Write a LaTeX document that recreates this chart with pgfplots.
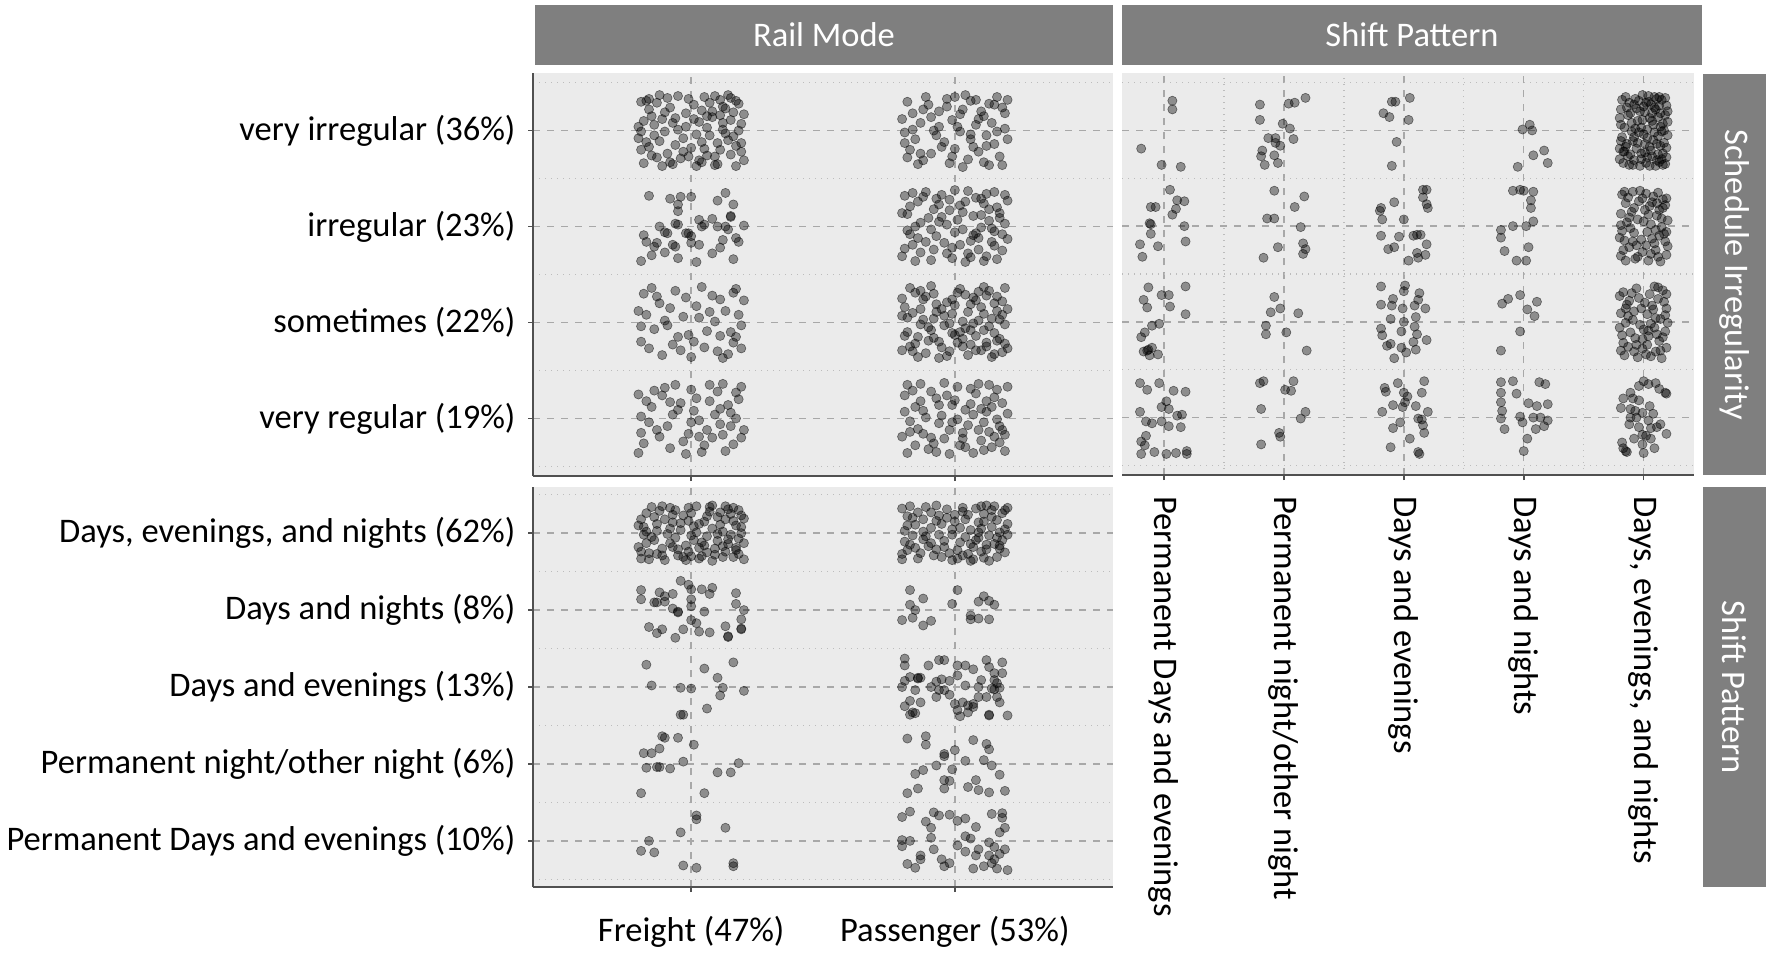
\documentclass[border=0pt]{standalone}
\usepackage{pgfplots}
\pgfplotsset{compat=1.18}
\usepackage{fontspec}
\setmainfont{Carlito}
\definecolor{panelbg}{RGB}{235,235,235}
\definecolor{stripgray}{RGB}{127,127,127}
\definecolor{majgrid}{RGB}{168,168,168}
\definecolor{mingrid}{RGB}{188,188,188}
\definecolor{axisgray}{RGB}{80,80,80}
\newcommand{\fs}{\fontsize{17.25pt}{20pt}\selectfont}
\pgfplotsset{
  table/cell/.style 2 args={header=false,row sep=\\,x expr=#1+\thisrowno{0}/100,y expr=#2+\thisrowno{1}/100},
  pts/.style={only marks,mark=*,mark size=2.3pt,mark options={draw=black,draw opacity=0.5,fill=black,fill opacity=0.4,line width=0.3pt}},
  panel/.style={scale only axis,anchor=north west,axis background/.style={fill=panelbg},
    grid=both,major grid style={majgrid,line width=0.7pt,dash pattern=on 3.5pt off 3.5pt},
    minor grid style={mingrid,line width=0.7pt,dash pattern=on 0.7pt off 2.3pt},
    tick align=outside,major tick length=2.5pt,minor tick length=0pt,
    tick style={axisgray,line width=0.8pt},
    axis line style={-,axisgray,line width=1pt},
    tick label style={font=\fs,text=black},
    yticklabel shift=2.8pt,
    enlargelimits=false}
}
\begin{document}
\begin{tikzpicture}
\useasboundingbox (0,0) rectangle (885pt,-477pt);
% strips
\fill[stripgray] (267.5pt,-2.5pt) rectangle (556.5pt,-32.5pt);
\node[white,font=\fs] at (412pt,-17.5pt) {Rail Mode};
\fill[stripgray] (561pt,-2.5pt) rectangle (851pt,-32.5pt);
\node[white,font=\fs] at (706pt,-17.5pt) {Shift Pattern};
\fill[stripgray] (851.5pt,-37pt) rectangle (883pt,-237.5pt);
\node[white,font=\fs,rotate=-90] at (867.25pt,-137.25pt) {Schedule Irregularity};
\fill[stripgray] (851.5pt,-243.5pt) rectangle (883pt,-443.5pt);
\node[white,font=\fs,rotate=-90] at (867.25pt,-343.5pt) {Shift Pattern};

% ---------------- top-left: Rail Mode x Schedule Irregularity
\begin{axis}[panel,at={(266.5pt,-36.5pt)},width=290pt,height=201.5pt,
  xmin=0.4,xmax=2.6,ymin=0.4,ymax=4.6,
  axis x line*=bottom,axis y line*=left,
  xtick={1,2},xticklabels={,},
  ytick={1,2,3,4},yticklabels={very regular (19\%),sometimes (22\%),irregular (23\%),very irregular (36\%)},
  minor ytick={0.5,1.5,2.5,3.5,4.5}]
% Freight, very irregular
\addplot[pts] table[cell={1}{4}] {-17 31\\ 4 -12\\ 12 25\\ -8 -33\\ 19 7\\ -2 18\\ -14 -5\\ 9 -27\\ 15 34\\ -19 -20\\ 6 3\\ -11 12\\ 17 -16\\ -5 36\\ 2 -37\\ 13 -3\\ -16 22\\ 8 14\\ -9 -24\\ 20 -31\\ -3 -8\\ 11 32\\ -20 4\\ 5 -19\\ -12 37\\ 16 19\\ -7 8\\ 1 27\\ 14 -10\\ -18 -34\\ 10 -35\\ -15 15\\ 3 9\\ 18 28\\ -6 -15\\ 7 -5\\ -13 -28\\ 19 -22\\ -1 33\\ 12 1\\ -10 -1\\ 4 21\\ -17 -12\\ 15 11\\ -4 -29\\ 9 36\\ -19 30\\ 6 -26\\ 17 -37\\ -8 24\\ 0 -18\\ -14 6\\ 11 -20\\ -2 4\\ 20 17\\ -11 -37\\ 7 29\\ -16 -17\\ 13 23\\ 3 -31\\ -6 13\\ 16 -6\\ -20 -8\\ 1 12\\ 10 -13\\ -9 34\\ 18 0\\ -3 -22\\ 8 20\\ -15 -26\\ 14 37\\ -12 -11\\ 5 35\\ -18 10\\ 19 -13\\ -7 -35\\ 2 -4\\ 12 8\\ -13 29\\ 9 -36\\ -5 1\\ 17 31\\ -1 -27\\ 6 15\\ -19 -1\\ 15 -25\\ -10 19\\ 4 -33\\ 11 16\\ -16 33\\};
% Freight, irregular
\addplot[pts] table[cell={1}{3}] {-16 32\\ -8 29\\ -4 31\\ 0 31\\ 13 35\\ 10 27\\ 16 23\\ -5 23\\ -5 16\\ -6 3\\ -5 2\\ -9 -7\\ -10 -6\\ -12 0\\ -18 -9\\ -17 -16\\ -13 -17\\ -14 -21\\ -2 -7\\ -1 -7\\ 0 -10\\ 3 7\\ 4 0\\ 5 2\\ 8 8\\ 10 0\\ 13 0\\ 15 10\\ 15 11\\ 20 1\\ 14 -3\\ 12 -14\\ 17 -12\\ 18 -16\\ 0 -17\\ 3 -19\\ -7 -19\\ -6 -21\\ -15 -30\\ -5 -33\\ 8 -28\\ 16 -34\\ -19 -36\\ 2 -37\\ 11 -22\\ -10 -27\\};
% Freight, sometimes
\addplot[pts] table[cell={1}{2}] {-18 30\\ -6 33\\ 8 28\\ 17 35\\ -12 20\\ 2 17\\ 13 12\\ -17 8\\ -3 6\\ 9 1\\ 19 -3\\ -14 -7\\ -1 -13\\ 11 -14\\ -19 -20\\ -7 -23\\ 5 -26\\ 16 -21\\ -11 -34\\ 0 -36\\ 14 -33\\ 20 23\\ -9 -3\\ 4 37\\ -15 36\\ 11 24\\ -4 -29\\ 18 8\\ -20 12\\ 6 -9\\ -2 26\\ 15 -10\\ -13 27\\ 1 -20\\ 19 -27\\ -8 15\\ 7 11\\ -16 -27\\ 12 -37\\ -5 -15\\ 3 5\\ -19 -4\\ 10 -30\\ 17 -15\\ -10 2\\ 16 31\\};
% Freight, very regular
\addplot[pts] table[cell={1}{1}] {-20 25\\ -10 32\\ 0 30\\ 12 36\\ 18 20\\ -15 12\\ -4 16\\ 7 18\\ 15 6\\ -19 2\\ -7 4\\ 3 -2\\ 11 -6\\ 20 -12\\ -13 -12\\ -1 -16\\ 8 -20\\ 16 -27\\ -18 -26\\ -8 -31\\ 4 -35\\ 13 -34\\ -11 24\\ 1 8\\ -16 -4\\ 10 28\\ 19 -20\\ -3 -24\\ 6 -12\\ -20 -36\\ 14 14\\ -6 35\\ 9 4\\ -14 29\\ 2 21\\ 17 0\\ -9 -8\\ 5 -28\\ -17 18\\ 12 -17\\ -2 -37\\ 19 33\\ -12 -19\\ 7 35\\ -5 9\\ 15 -8\\ -19 -15\\ 0 -4\\ 11 10\\ -8 17\\ 3 -19\\ 17 27\\};
% Passenger, very irregular
\addplot[pts] table[cell={2}{4}] {-18 30\\ -10 27\\ -3 33\\ 6 31\\ 13 28\\ 18 24\\ -16 18\\ -6 20\\ 3 22\\ 11 15\\ 16 35\\ -13 8\\ -1 11\\ 8 6\\ 19 2\\ -19 -2\\ -8 0\\ 2 -1\\ 12 -5\\ -15 -9\\ -4 -12\\ 6 -9\\ 15 -14\\ 20 -9\\ -17 -20\\ -9 -24\\ 0 -19\\ 9 -22\\ 17 -27\\ -12 -31\\ -2 -34\\ 5 -30\\ 13 -36\\ -20 12\\ -11 35\\ 4 37\\ 10 20\\ -6 4\\ 14 8\\ -14 -35\\ 7 -17\\ -1 -27\\ 19 18\\ -7 -5\\ 1 4\\ -18 -28\\ 11 -33\\ 16 -1\\ -3 25\\ 8 32\\ -12 22\\ 3 -38\\ -16 1\\ 12 -16\\ 18 -36\\ -9 14\\ 0 35\\ 9 12\\ -5 -17\\ 15 27\\ -19 -13\\ 6 -4\\ -13 -24\\ 20 32\\ 2 17\\};
% Passenger, irregular
\addplot[pts] table[cell={2}{3}] {-14 26\\ 7 -9\\ 19 33\\ -3 -28\\ 10 12\\ -18 -4\\ 2 22\\ 15 -20\\ -9 -35\\ 5 37\\ -20 14\\ 12 -31\\ -6 5\\ 17 9\\ -11 -16\\ 0 -6\\ 8 30\\ -16 35\\ 14 -2\\ -1 -22\\ 20 -13\\ -8 18\\ 4 -37\\ -13 -27\\ 11 24\\ -5 33\\ 16 -34\\ -19 -23\\ 6 -15\\ 1 7\\ -10 9\\ 13 18\\ -15 0\\ 9 -24\\ -2 28\\ 18 -25\\ -7 -10\\ 3 15\\ -17 21\\ 15 36\\ -4 -17\\ 10 -1\\ -12 31\\ 19 3\\ -1 -33\\ 7 11\\ -20 -31\\ 12 34\\ -9 -3\\ 5 -28\\ 16 20\\ -14 -12\\ 0 38\\ -6 23\\ 14 -16\\ -18 13\\ 8 -7\\ -3 2\\ 11 -36\\ -16 -19\\ 4 26\\ 18 -8\\ -11 36\\ 2 -19\\ -7 29\\ 13 6\\ -19 32\\ 6 -32\\ 17 14\\ -13 4\\ 9 -12\\ -2 17\\ 20 27\\ -8 -24\\ 3 -3\\ -15 -36\\ 15 -5\\ -5 10\\ 10 29\\ -17 -8\\};
% Passenger, sometimes
\addplot[pts] table[cell={2}{2}] {8 -29\\ -13 14\\ 18 22\\ -4 -3\\ 2 35\\ -19 -14\\ 11 -8\\ -8 30\\ 15 -33\\ -1 9\\ -16 -30\\ 6 19\\ 19 -2\\ -10 -19\\ 3 -25\\ 13 33\\ -20 25\\ 9 2\\ -6 -37\\ 16 12\\ -12 3\\ 0 -13\\ 12 -21\\ -17 36\\ 7 26\\ -3 21\\ 20 -27\\ -9 -8\\ 5 -34\\ 14 4\\ -15 -22\\ 1 31\\ -7 11\\ 17 -17\\ -2 -30\\ 10 16\\ -18 5\\ 4 -6\\ -11 27\\ 19 36\\ -5 -26\\ 12 28\\ -14 -36\\ 8 -14\\ -1 24\\ 15 -11\\ -19 16\\ 3 1\\ -8 -16\\ 18 8\\ -13 33\\ 6 -23\\ -4 7\\ 11 37\\ -20 -29\\ 0 18\\ 14 -36\\ -10 -5\\ 7 -1\\ -16 10\\ 16 27\\ -6 -20\\ 2 -10\\ 19 -22\\ -12 24\\ 9 32\\ -3 -35\\ 13 -4\\ -18 -10\\ 5 11\\ -9 38\\ 17 3\\ -14 -15\\ 1 -21\\ 10 -29\\ -7 19\\ 20 14\\ -2 -1\\ -17 -25\\ 8 23\\ -11 -32\\ 4 29\\ 15 20\\ -5 14\\ 12 -25\\ -20 7\\ 6 -8\\ -15 31\\ 18 -31\\ -1 -11\\ 11 9\\ -8 4\\ 3 -17\\ -13 -2\\ 16 -19\\};
% Passenger, very regular
\addplot[pts] table[cell={2}{1}] {3 -21\\ -12 8\\ 16 30\\ -7 -35\\ 11 -4\\ -19 24\\ 6 15\\ -2 -12\\ 19 -17\\ -15 -28\\ 9 36\\ -5 3\\ 14 -30\\ -17 -3\\ 1 33\\ 12 7\\ -9 -20\\ 20 5\\ -3 24\\ 7 -36\\ -13 18\\ 17 -8\\ -1 -4\\ 10 -23\\ -18 35\\ 4 9\\ -10 -32\\ 15 22\\ -6 14\\ 19 -34\\ -14 -11\\ 2 -28\\ 8 26\\ -20 -19\\ 13 -14\\ -4 37\\ 18 16\\ -11 1\\ 5 -7\\ -16 29\\ 0 19\\ 11 -33\\ -8 -26\\ 16 -1\\ -19 7\\ 6 31\\ -2 -37\\ 14 12\\ -12 -16\\ 9 -12\\ -6 -5\\ 20 33\\ -15 12\\ 3 -15\\ 12 18\\ -9 28\\ 17 -25\\ -4 -21\\ 7 4\\ -18 -36\\ 1 -1\\ 15 -19\\ -13 36\\ 10 10\\ -7 21\\ 18 -12\\ -17 -14\\ 4 -30\\ 13 35\\ -1 14\\};
\end{axis}

% ---------------- top-right: Shift Pattern x Schedule Irregularity
\begin{axis}[panel,at={(561pt,-36.5pt)},width=286pt,height=201pt,
  xmin=0.65,xmax=5.42,ymin=0.4,ymax=4.6,
  axis x line*=bottom,axis y line*=left,y axis line style={draw=none},
  ytick={1,2,3,4},yticklabels={,,,},ytick style={draw=none},
  minor ytick={0.5,1.5,2.5,3.5,4.5},
  xtick={1,2,3,4,5},minor xtick={1.5,2.5,3.5,4.5},
  xticklabels={Permanent Days and evenings,Permanent night/other night,Days and evenings,Days and nights,{Days, evenings, and nights}},
  xticklabel shift=4.5pt,
  xticklabel style={rotate=-90,anchor=west}]
% Permanent Days and evenings
\addplot[pts] table[cell={1}{4}] {7 31\\ 7 22\\ -19 -19\\ -2 -36\\ 14 -38\\};
\addplot[pts] table[cell={1}{3}] {5 38\\ -11 20\\ -7 20\\ 11 27\\ 17 26\\ 10 18\\ 7 12\\ -11 2\\ -12 3\\ -11 -8\\ 17 0\\ -20 -19\\ -5 -21\\ 18 -16\\ -18 -32\\};
\addplot[pts] table[cell={1}{2}] {-13 36\\ 18 37\\ -17 23\\ -14 15\\ -2 28\\ 4 28\\ 5 16\\ 18 8\\ -4 -2\\ -10 -4\\ -19 -16\\ -16 -11\\ -17 -31\\ -13 -29\\ -10 -27\\ -5 -34\\ -12 -35\\ -14 -30\\};
\addplot[pts] table[cell={1}{1}] {-20 36\\ -4 36\\ -14 29\\ 8 28\\ 18 27\\ 2 17\\ -2 11\\ 4 9\\ -20 6\\ 15 3\\ 11 2\\ -15 -4\\ -10 -6\\ -2 -4\\ 4 -9\\ 14 -10\\ -15 -19\\ -19 -25\\ -16 -29\\ -8 -36\\ -19 -38\\ 2 -38\\ 10 -37\\ 19 -35\\ 19 -38\\};
% Permanent night/other night
\addplot[pts] table[cell={2}{4}] {-20 27\\ 4 28\\ 9 29\\ 18 34\\ -20 11\\ -1 7\\ 5 2\\ 8 -9\\ -13 -8\\ -7 -8\\ -7 -13\\ -3 -16\\ -18 -21\\ -19 -27\\ -8 -26\\ -16 -36\\ -5 -34\\};
\addplot[pts] table[cell={2}{3}] {-8 37\\ 17 31\\ 9 20\\ -14 8\\ -8 8\\ 14 -1\\ 16 -18\\ 18 -24\\ 16 -29\\ -5 -22\\ -17 -33\\};
\addplot[pts] table[cell={2}{2}] {-8 26\\ -11 10\\ -3 14\\ 12 9\\ -15 -4\\ -15 -13\\ 2 -11\\ 19 -30\\};
\addplot[pts] table[cell={2}{1}] {-20 36\\ -17 38\\ 8 38\\ 1 29\\ 6 28\\ -19 9\\ 18 6\\ 14 -1\\ -4 -16\\ -3 -20\\ -19 -28\\};
% Days and evenings
\addplot[pts] table[cell={3}{4}] {-10 30\\ -7 30\\ 5 34\\ -17 18\\ -12 14\\ 4 11\\ -6 -12\\ -10 -37\\};
\addplot[pts] table[cell={3}{3}] {16 38\\ 19 38\\ 16 30\\ 19 23\\ 20 19\\ -8 25\\ -19 19\\ -20 16\\ -18 7\\ 0 7\\ -19 -10\\ -4 -11\\ 8 -10\\ 11 -9\\ 14 -9\\ 19 -19\\ -8 -22\\ -13 -24\\ 4 -36\\ 11 -28\\ 12 -33\\ 18 -30\\};
\addplot[pts] table[cell={3}{2}] {-19 37\\ 1 38\\ 0 32\\ 13 30\\ -9 24\\ 12 23\\ -19 18\\ -10 17\\ -1 14\\ 9 17\\ 18 14\\ -11 3\\ 10 5\\ 0 0\\ -19 -7\\ -18 -14\\ 9 -5\\ 11 -13\\ -2 -10\\ -14 -25\\ -11 -23\\ -2 -27\\ 10 -29\\ 19 -19\\ 8 -21\\ -8 -38\\ 2 -32\\};
\addplot[pts] table[cell={3}{1}] {17 38\\ -5 36\\ -16 31\\ -15 27\\ 0 26\\ 3 22\\ 1 16\\ 15 26\\ -9 13\\ -1 11\\ 10 12\\ -18 6\\ 20 6\\ 12 -1\\ 15 -2\\ -3 -5\\ 16 -8\\ -9 -11\\ 17 -16\\ 5 -22\\ -11 -31\\ 12 -36\\ 13 -38\\};
% Days and nights
\addplot[pts] table[cell={4}{4}] {5 6\\ 7 0\\ -1 1\\ 17 -21\\ 8 -26\\ 20 -34\\ -5 -38\\};
\addplot[pts] table[cell={4}{3}] {-9 37\\ -3 38\\ 0 37\\ 8 36\\ 6 27\\ 6 19\\ 8 5\\ -9 0\\ 2 0\\ -19 -4\\ -19 -12\\ 4 -22\\ -16 -26\\ -6 -36\\ 2 -36\\};
\addplot[pts] table[cell={4}{2}] {-18 19\\ -13 24\\ -3 28\\ 3 13\\ 11 21\\ 9 6\\ -3 -10\\ -19 -30\\};
\addplot[pts] table[cell={4}{1}] {-19 37\\ -9 38\\ 13 37\\ 18 35\\ -19 26\\ -6 25\\ -19 16\\ 4 15\\ 11 12\\ 20 14\\ -18 7\\ -19 -1\\ -3 1\\ -1 -5\\ 8 0\\ 14 0\\ 20 -3\\ 17 -9\\ 10 -12\\ -16 -12\\ 3 -22\\ 0 -35\\};
% Days, evenings, and nights
\addplot[pts] table[cell={5}{4}] {-17 -22\\ 5 13\\ 18 -35\\ -8 27\\ 12 -6\\ -2 -30\\ 15 32\\ -19 6\\ 1 -14\\ 9 24\\ -12 -36\\ 19 -18\\ -5 10\\ 7 -27\\ -15 35\\ 3 1\\ 14 18\\ -9 -11\\ 20 9\\ -1 37\\ -18 -7\\ 10 -37\\ -6 -19\\ 16 -24\\ -13 16\\ 4 30\\ 11 -14\\ -20 -30\\ 8 6\\ -3 20\\ 17 0\\ -11 -25\\ 2 -34\\ 13 35\\ -16 3\\ 6 -21\\ -7 33\\ 19 26\\ -4 -2\\ 12 14\\ -14 -14\\ 0 25\\ 15 -30\\ -19 22\\ 9 -2\\ -10 8\\ 5 -37\\ 18 16\\ -2 -24\\ 11 33\\ -17 -34\\ 3 -8\\ 14 -16\\ -8 -31\\ 20 -5\\ -12 29\\ 7 18\\ -5 -13\\ 16 7\\ 1 -23\\ -20 13\\ 10 22\\ -15 -17\\ 4 36\\ 19 -28\\ -7 2\\ 13 -33\\ -1 11\\ 8 -10\\ -18 32\\ 15 -1\\ -10 -1\\ 2 29\\ 17 -13\\ -13 -27\\ 6 27\\ -3 -37\\ 12 -25\\ -19 -11\\ 9 35\\ -6 23\\ 18 34\\ -11 18\\ 0 -4\\ 14 4\\ -16 -22\\ 5 -17\\ -9 -36\\ 20 20\\ -4 31\\ 11 -31\\ -14 24\\ 3 -28\\ 16 -36\\ -20 -19\\ 7 10\\ -2 3\\ 13 26\\ -8 -7\\ 1 19\\};
\addplot[pts] table[cell={5}{3}] {-18 33\\ -9 36\\ 2 34\\ 12 35\\ 19 29\\ -15 24\\ -4 26\\ 7 25\\ 16 19\\ -19 13\\ -10 15\\ 1 17\\ 11 11\\ 20 6\\ -14 4\\ -5 7\\ 6 2\\ 15 -1\\ -18 -5\\ -8 -7\\ 3 -6\\ 13 -10\\ -16 -15\\ -2 -14\\ 9 -18\\ 18 -16\\ -12 -22\\ -1 -27\\ 10 -25\\ 19 -30\\ -19 -31\\ -7 -34\\ 4 -36\\ 14 -37\\ -13 30\\ 8 31\\ -6 -20\\ 17 -8\\ -17 -25\\ 0 5\\ 12 -32\\ -11 -2\\ 5 21\\ -20 -12\\ 15 8\\ -3 37\\ 20 -21\\ -8 19\\ 7 -13\\ -15 -36\\ 2 -20\\ 16 28\\ -12 9\\ 10 -4\\ -5 -32\\ 18 22\\ -19 1\\ 4 12\\ -9 -16\\ 13 17\\ -1 29\\ 19 -6\\ -16 36\\ 6 -29\\ 11 24\\};
\addplot[pts] table[cell={5}{2}] {-17 31\\ -6 35\\ 5 29\\ 16 33\\ -12 22\\ 1 20\\ 12 24\\ 19 14\\ -19 9\\ -8 11\\ 3 8\\ 14 3\\ -15 -1\\ -3 -3\\ 9 -6\\ 18 -10\\ -18 -14\\ -7 -17\\ 4 -15\\ 13 -20\\ -13 -26\\ -1 -28\\ 10 -31\\ 19 -27\\ -16 -35\\ -5 -37\\ 6 -36\\ 15 -38\\ -20 27\\ 9 37\\ -10 30\\ 20 -1\\ -2 14\\ 7 17\\ -14 18\\ 17 21\\ -9 2\\ 0 -8\\ 11 -13\\ -17 -22\\ 3 -24\\ 16 -16\\ -11 -11\\ 6 -2\\ -19 -30\\ 12 36\\ -4 25\\ 18 7\\ -13 6\\ 2 -34\\ 8 13\\ -6 -24\\ 14 -30\\ -20 -6\\ 10 4\\ -1 -18\\ 19 29\\ -15 14\\ 4 -9\\ -8 -31\\};
\addplot[pts] table[cell={5}{1}] {0 38\\ 10 36\\ -4 33\\ 4 35\\ 18 26\\ -11 26\\ -17 20\\ -9 20\\ -4 18\\ -19 10\\ -11 9\\ 5 12\\ -7 7\\ -1 5\\ 8 4\\ -11 0\\ -6 0\\ 4 -3\\ 14 -7\\ -12 -7\\ -4 -10\\ 6 -11\\ -1 -18\\ 2 -19\\ 11 -10\\ 19 -17\\ -8 -22\\ 6 -22\\ -18 -26\\ -17 -32\\ -14 -36\\ -1 -28\\ 9 -32\\ 19 25\\ 13 30\\ -15 -35\\ 0 -37\\};
\end{axis}

% ---------------- bottom-left: Rail Mode x Shift Pattern
\begin{axis}[panel,at={(266.5pt,-243.5pt)},width=290pt,height=200pt,
  xmin=0.4,xmax=2.6,ymin=0.4,ymax=5.6,
  axis x line*=bottom,axis y line*=left,
  xtick={1,2},xticklabels={Freight (47\%),Passenger (53\%)},
  xticklabel shift=8.5pt,
  ytick={1,2,3,4,5},yticklabels={Permanent Days and evenings (10\%),Permanent night/other night (6\%),Days and evenings (13\%),Days and nights (8\%),{Days, evenings, and nights (62\%)}},
  minor ytick={0.5,1.5,2.5,3.5,4.5,5.5}]
% Freight
\addplot[pts] table[cell={1}{5}] {-19 -33\\ -7 14\\ 6 -25\\ 18 30\\ -13 3\\ 2 35\\ 14 -8\\ -2 -16\\ 10 21\\ -17 26\\ 20 -34\\ -5 -29\\ 8 6\\ -11 -20\\ 16 16\\ 0 -3\\ -20 10\\ 12 -31\\ -8 33\\ 4 -12\\ 17 -19\\ -14 -9\\ 7 28\\ -3 23\\ 19 0\\ -10 -35\\ 1 9\\ 13 35\\ -18 -2\\ 9 -20\\ -6 -6\\ 15 25\\ -16 -26\\ 3 -33\\ 11 11\\ -1 -24\\ 20 19\\ -12 29\\ 5 15\\ -19 18\\ 14 -14\\ -8 -13\\ 8 -36\\ -4 4\\ 18 -27\\ -15 34\\ 0 26\\ 12 2\\ -11 -29\\ 6 -4\\ -20 -18\\ 16 33\\ -2 -35\\ 10 -10\\ -13 12\\ 19 8\\ -7 24\\ 3 -19\\ 15 -2\\ -17 -13\\ 7 34\\ -9 -1\\ 13 -24\\ -1 16\\ 20 -13\\ -14 21\\ 4 -30\\ 11 27\\ -5 -21\\ 17 10\\ -18 8\\ 1 -9\\ 9 -28\\ -10 18\\ 14 31\\ -3 -31\\ 18 -7\\ -16 -34\\ 6 22\\ -7 -18\\ 2 1\\ -19 -24\\ 12 -17\\ -11 35\\ 16 -31\\ -4 13\\ 8 36\\ -15 -5\\ 19 23\\ 0 -30\\ -8 6\\ 5 -16\\ -13 -27\\ 13 18\\ -1 33\\ 17 -22\\ -17 2\\ 10 -1\\ -6 30\\ 3 12\\};
\addplot[pts] table[cell={1}{4}] {-4 38\\ -1 33\\ 0 27\\ 4 27\\ 8 29\\ 7 21\\ -19 26\\ -19 14\\ -12 23\\ -10 18\\ -7 21\\ -13 10\\ -14 10\\ 0 14\\ 0 5\\ -7 2\\ -5 -2\\ 5 -2\\ 17 22\\ 17 8\\ 20 0\\ 19 -12\\ 19 -25\\ 0 -13\\ 2 -17\\ -16 -22\\ -11 -25\\ -13 -30\\ -3 -25\\ 3 -28\\ 7 -29\\ -6 -36\\ 14 -35\\ 13 -21\\ -10 11\\ -5 -3\\ 19 -24\\ 14 -34\\};
\addplot[pts] table[cell={1}{3}] {-17 29\\ 5 24\\ 16 32\\ 10 12\\ -15 2\\ -4 -1\\ 0 -2\\ 12 -1\\ 20 -5\\ 11 -11\\ 6 -28\\ -4 -36\\ -3 -36\\};
\addplot[pts] table[cell={1}{2}] {-11 36\\ -10 34\\ -5 34\\ 1 25\\ -12 20\\ -18 14\\ -15 14\\ -3 3\\ 18 1\\ -17 -5\\ -13 -4\\ -12 -4\\ -8 -6\\ 10 -11\\ 15 -11\\ -19 -38\\ 5 -38\\};
\addplot[pts] table[cell={1}{1}] {2 33\\ 2 28\\ -4 11\\ 13 17\\ -16 0\\ -19 -13\\ -14 -15\\ -3 -32\\ 2 -35\\ 16 -29\\ 16 -33\\};
% Passenger
\addplot[pts] table[cell={2}{5}] {-18 22\\ -5 -31\\ 9 14\\ 17 -20\\ -12 -8\\ 3 33\\ 13 -3\\ -1 5\\ -20 -27\\ 6 -14\\ 19 30\\ -9 27\\ 1 -22\\ 14 8\\ -15 11\\ 7 -34\\ -6 -2\\ 18 -9\\ -3 20\\ 11 25\\ -17 -15\\ 4 -5\\ 15 35\\ -11 34\\ -1 -35\\ 10 -24\\ -19 3\\ 20 12\\ -7 -21\\ 5 24\\ 12 -15\\ -14 -33\\ 0 15\\ 17 1\\ -9 7\\ 8 32\\ -20 32\\ 2 -12\\ 16 -31\\ -4 -10\\ -16 -3\\ 11 -32\\ -7 36\\ 19 -25\\ 6 4\\ -12 18\\ 14 21\\ -2 -26\\ 9 -6\\ -18 -22\\ 3 28\\ 16 17\\ -10 -17\\ -5 12\\ 20 -2\\ 7 -18\\ -14 27\\ 12 36\\ 1 -33\\ -19 -11\\ 10 6\\ -8 -29\\ 15 -14\\ -3 31\\ 5 -27\\ -16 20\\ 18 26\\ -1 -2\\ 13 -36\\ -11 -4\\ 4 18\\ -20 -34\\ 8 -9\\ 19 5\\ -6 23\\ 11 15\\ -13 -26\\ 2 7\\ 17 -16\\ -9 -13\\ 14 30\\ -17 35\\ 6 -36\\ 0 24\\ -4 -18\\ 12 -21\\ 20 33\\ -15 -19\\ 9 1\\ -7 16\\ 16 -6\\ -12 2\\ 3 -29\\ -18 10\\ 10 35\\};
\addplot[pts] table[cell={2}{4}] {-17 26\\ 1 26\\ -12 15\\ -17 7\\ -1 8\\ -15 0\\ 11 18\\ 13 12\\ 15 7\\ 9 11\\ -20 -13\\ -16 -10\\ -9 -14\\ -12 -20\\ 6 -7\\ 9 -11\\ 6 -12\\ 13 -12\\};
\addplot[pts] table[cell={2}{3}] {-19 37\\ -19 28\\ -10 28\\ -6 35\\ -4 35\\ 1 28\\ 4 28\\ 7 23\\ 12 35\\ 13 26\\ 18 32\\ -20 0\\ -19 8\\ -17 13\\ -14 12\\ -13 12\\ -15 -4\\ -9 0\\ -7 7\\ -5 10\\ -2 8\\ -6 -4\\ -4 -4\\ 1 15\\ 4 2\\ 9 0\\ 12 -13\\ 14 -2\\ 15 9\\ 16 5\\ 17 -1\\ 15 18\\ 18 18\\ -7 -13\\ -2 -10\\ 0 -22\\ 3 -20\\ 5 -24\\ 7 -26\\ 9 -13\\ 16 -13\\ 17 -20\\ -19 -25\\ -17 -18\\ -13 -20\\ -15 -34\\ -17 -36\\ 1 -30\\ 2 -38\\ 5 -33\\ 13 -37\\ 20 -37\\ 7 -22\\ 10 9\\ -14 11\\ 15 -3\\ 13 -36\\ -16 -33\\};
\addplot[pts] table[cell={2}{2}] {-18 33\\ -11 36\\ -11 25\\ -4 13\\ -4 10\\ 7 31\\ 12 26\\ 13 19\\ 4 4\\ 14 -2\\ -15 -13\\ -12 -8\\ -1 -7\\ -4 -21\\ -2 -22\\ 17 -14\\ -14 -32\\ -18 -38\\ -4 -32\\ 5 -30\\ 9 -34\\ 8 -21\\ 13 -37\\ 19 -35\\ 0 18\\ -7 -2\\ 11 5\\};
\addplot[pts] table[cell={2}{1}] {-20 31\\ -17 38\\ -8 37\\ -6 33\\ -2 34\\ 1 26\\ 4 29\\ 14 35\\ 18 36\\ 18 30\\ -11 25\\ -9 17\\ 8 18\\ 19 17\\ 17 11\\ 4 6\\ 6 3\\ -20 1\\ -17 0\\ -20 -7\\ -9 4\\ 1 -6\\ -8 -11\\ 4 -14\\ 9 -11\\ 13 -2\\ 15 -8\\ 19 -11\\ 17 -17\\ -13 -19\\ -13 -24\\ -5 -24\\ -18 -30\\ -15 -35\\ -4 -33\\ -2 -29\\ 7 -36\\ 11 -33\\ 15 -24\\ 14 -29\\ 16 -36\\ 20 -38\\ 8 -19\\ 13 -19\\};
\end{axis}
\end{tikzpicture}
\end{document}
